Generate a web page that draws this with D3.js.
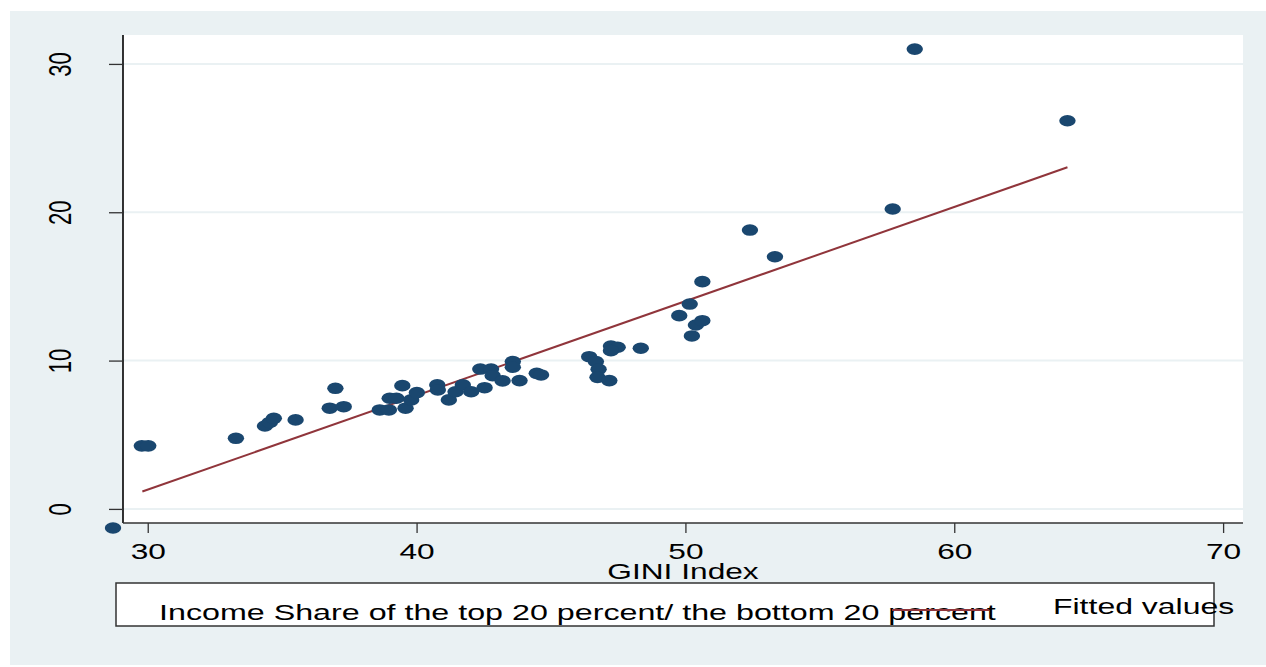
<!DOCTYPE html>
<html>
<head>
<meta charset="utf-8">
<script src="https://cdn.jsdelivr.net/npm/d3@7"></script>
<style>
  body { margin: 0; background: #ffffff; }
  svg text { font-family: "Liberation Sans", Arial, sans-serif; fill: #000; }
</style>
</head>
<body>
<div id="chart"></div>
<script>
// Data
const giniIndex = [29.78, 30.02, 33.28, 34.36, 34.54, 34.69, 35.50, 36.77, 36.98, 37.29,
  38.63, 38.97, 39.00, 39.25, 39.47, 39.59, 39.80, 40.01, 40.77, 40.79,
  41.20, 41.45, 41.72, 42.03, 42.37, 42.53, 42.77, 42.83, 43.20, 43.58,
  43.58, 43.83, 44.47, 44.63, 46.42, 46.67, 46.77, 46.73, 47.17, 47.23,
  47.48, 47.23, 48.34, 49.77, 50.16, 50.24, 50.39, 50.63, 50.63, 52.40,
  53.33, 57.71, 58.53, 64.21];
const incomeRatio = [4.25, 4.25, 4.76, 5.59, 5.83, 6.11, 6.00, 6.79, 8.13, 6.89,
  6.67, 6.67, 7.46, 7.46, 8.31, 6.79, 7.35, 7.84, 8.36, 8.02,
  7.35, 7.90, 8.36, 7.90, 9.43, 8.17, 9.43, 8.98, 8.63, 9.93,
  9.55, 8.65, 9.14, 9.03, 10.26, 9.93, 9.41, 8.87, 8.65, 10.98,
  10.90, 10.67, 10.83, 13.03, 13.81, 11.66, 12.40, 12.69, 15.32, 18.80,
  17.00, 20.22, 31.00, 26.17];
const fittedGini = [29.80, 64.21];
const fittedValues = [1.17, 23.03];
const xTicks = [30, 40, 50, 60, 70];
const yTicks = [0, 10, 20, 30];
const xTitle = "GINI Index";
const seriesLabels = ["Income Share of the top 20 percent/ the bottom 20 percent", "Fitted values"];

const svgWidth = 1266;
const svgHeight = 667;
const stretch = 1.44;   // the picture's text is stretched sideways
const bgColor = "#eaf1f3";
const markerColor = "#1a476f";
const lineColor = "#90353b";

const plot = { left: 123, right: 1243, top: 35, bottom: 523 };

const svg = d3.select("#chart")
  .append("svg")
  .attr("width", svgWidth)
  .attr("height", svgHeight);

// Graph region
svg.append("rect")
  .attr("x", 10).attr("y", 11)
  .attr("width", svgWidth - 10).attr("height", svgHeight - 13)
  .attr("fill", bgColor);

// Plot region
svg.append("rect")
  .attr("x", plot.left).attr("y", plot.top)
  .attr("width", plot.right - plot.left).attr("height", plot.bottom - plot.top)
  .attr("fill", "#ffffff");

const xScale = d3.scaleLinear().domain([29.08, 70.74]).range([plot.left, plot.right]);
const yScale = d3.scaleLinear().domain([-0.95, 31.95]).range([plot.bottom, plot.top]);

// Grid lines
svg.append("g")
  .selectAll("line")
  .data(yTicks)
  .enter()
  .append("line")
  .attr("x1", plot.left).attr("x2", plot.right)
  .attr("y1", d => yScale(d)).attr("y2", d => yScale(d))
  .attr("stroke", bgColor)
  .attr("stroke-width", 2);

// Fitted line
svg.append("path")
  .datum(d3.zip(fittedGini, fittedValues))
  .attr("d", d3.line().x(d => xScale(d[0])).y(d => yScale(d[1])))
  .attr("fill", "none")
  .attr("stroke", lineColor)
  .attr("stroke-width", 2);

// Scatter markers
svg.append("g")
  .selectAll("ellipse")
  .data(d3.zip(giniIndex, incomeRatio))
  .enter()
  .append("ellipse")
  .attr("cx", d => xScale(d[0]))
  .attr("cy", d => yScale(d[1]))
  .attr("rx", 8.2)
  .attr("ry", 5.8)
  .attr("fill", markerColor);

// y axis
const yAxis = svg.append("g")
  .attr("transform", `translate(${plot.left},0)`)
  .call(d3.axisLeft(yScale).tickValues(yTicks).tickSize(14).tickFormat(d3.format("d")));
yAxis.select(".domain")
  .attr("d", `M0,${plot.top}V${plot.bottom}`)
  .attr("stroke", "#000").attr("stroke-width", 1.6);
yAxis.selectAll(".tick line").attr("stroke", "#333").attr("stroke-width", 1.3);
yAxis.selectAll(".tick text")
  .attr("x", null).attr("y", null).attr("dy", null)
  .attr("text-anchor", "middle")
  .attr("font-size", 22)
  .attr("transform", `translate(-52,0) scale(${stretch},1) rotate(-90)`);

// x axis
const xAxis = svg.append("g")
  .attr("transform", `translate(0,${plot.bottom})`)
  .call(d3.axisBottom(xScale).tickValues(xTicks).tickSize(10).tickFormat(d3.format("d")));
xAxis.select(".domain")
  .attr("d", `M${plot.left},0H${plot.right}`)
  .attr("stroke", "#333").attr("stroke-width", 1.5);
xAxis.selectAll(".tick line").attr("stroke", "#333").attr("stroke-width", 1.3);
xAxis.selectAll(".tick text")
  .attr("y", null).attr("dy", null)
  .attr("text-anchor", "middle")
  .attr("font-size", 22)
  .attr("transform", `translate(0,36) scale(${stretch},1)`);

// x axis title
svg.append("text")
  .attr("text-anchor", "middle")
  .attr("font-size", 22)
  .attr("transform", `translate(${(plot.left + plot.right) / 2},579) scale(${stretch},1)`)
  .text(xTitle);

// Legend
const legend = svg.append("g");
legend.append("rect")
  .attr("x", 116).attr("y", 583)
  .attr("width", 1098).attr("height", 43)
  .attr("fill", "#ffffff")
  .attr("stroke", "#333").attr("stroke-width", 1.5);

legend.append("ellipse")
  .attr("cx", 113).attr("cy", 528)
  .attr("rx", 8.2).attr("ry", 5.8)
  .attr("fill", markerColor);

legend.append("text")
  .attr("font-size", 22.4)
  .attr("transform", `translate(159,620) scale(${stretch},1)`)
  .text(seriesLabels[0]);

legend.append("line")
  .attr("x1", 892).attr("x2", 989)
  .attr("y1", 610).attr("y2", 610)
  .attr("stroke", lineColor).attr("stroke-width", 2);

legend.append("text")
  .attr("font-size", 22.2)
  .attr("transform", `translate(1053,614) scale(${stretch},1)`)
  .text(seriesLabels[1]);
</script>
</body>
</html>
